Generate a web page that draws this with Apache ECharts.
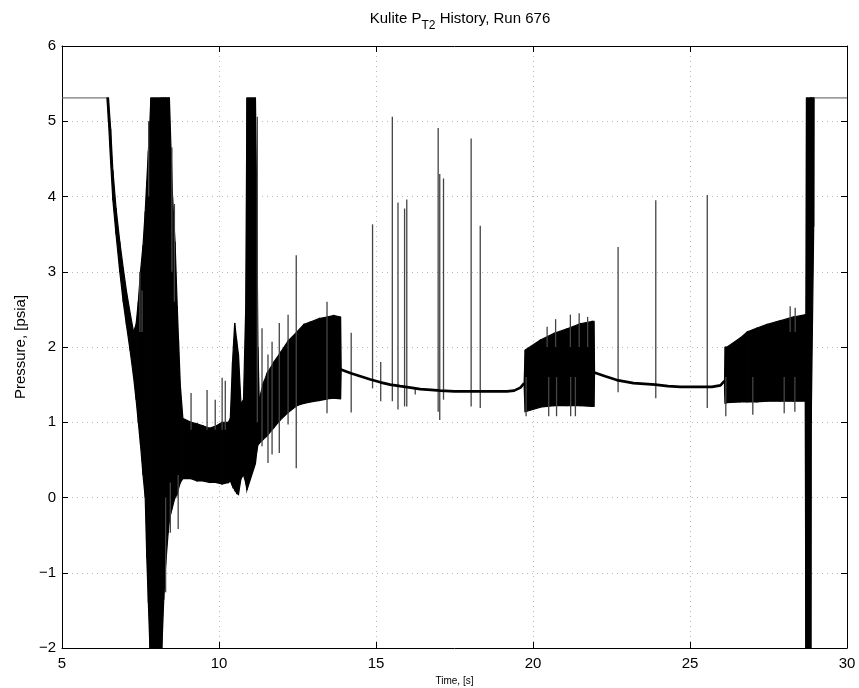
<!DOCTYPE html>
<html>
<head>
<meta charset="utf-8">
<script src="https://cdn.jsdelivr.net/npm/echarts@6/dist/echarts.min.js"></script>
<style>html,body{margin:0;padding:0;background:#fff}#c{width:859px;height:688px}</style>
</head>
<body>
<div id="c"></div>
<script>
// ---- axis ticks ----
const xTicks = [5, 10, 15, 20, 25, 30];
const yTicks = [-2, -1, 0, 1, 2, 3, 4, 5, 6];

// ---- saturated flat segments (psia) ----
const flatStartT = [5, 6.43];
const flatStartV = [5.31, 5.31];
const flatEndT = [28.94, 30];
const flatEndV = [5.31, 5.31];

// ---- smooth (quiet) trace segments ----
const curve1T = [13.88, 14.2, 14.5, 14.8, 15.14, 15.45, 15.77, 16.1, 16.41, 16.75, 17.05, 17.5, 18.11, 18.6, 19.17, 19.4, 19.6, 19.72];
const curve1V = [1.70, 1.65, 1.61, 1.57, 1.53, 1.50, 1.48, 1.46, 1.44, 1.43, 1.42, 1.41, 1.41, 1.41, 1.41, 1.42, 1.46, 1.52];
const curve2T = [21.95, 22.3, 22.67, 23.2, 23.89, 24.3, 24.69, 25.33, 25.7, 25.97, 26.1];
const curve2V = [1.66, 1.61, 1.56, 1.52, 1.50, 1.48, 1.47, 1.47, 1.47, 1.49, 1.55];

// ---- oscillating regions: envelope (time, low, high) ----
const blobT  = [6.43, 6.48, 6.55, 6.62, 6.72, 6.84, 6.95, 7.05, 7.17, 7.28, 7.36, 7.43, 7.5, 7.58, 7.65, 7.7, 7.75, 7.8, 7.83, 8.18, 8.24, 8.3, 8.38, 8.42, 8.47, 8.52, 8.6, 8.67, 8.71, 8.77, 8.85, 9.1, 9.3, 9.5, 9.7, 9.9, 10.1, 10.3, 10.36, 10.43, 10.5, 10.56, 10.62, 10.7, 10.78, 10.85, 10.89, 11.16, 11.2, 11.24, 11.28, 11.4, 11.53, 11.75, 11.95, 12.2, 12.48, 12.7, 12.9, 13.2, 13.45, 13.65, 13.87, 13.89];
const blobLo = [5.31, 5.0, 4.45, 3.95, 3.5, 3.0, 2.6, 2.3, 1.95, 1.6, 1.3, 1.0, 0.7, 0.3, 0.0, -0.8, -1.4, -2, -2, -2, -1.36, -0.9, -0.47, -0.3, -0.2, -0.12, 0.0, 0.05, 0.12, 0.2, 0.25, 0.25, 0.22, 0.22, 0.2, 0.2, 0.18, 0.2, 0.22, 0.15, 0.1, 0.06, 0.04, 0.25, 0.3, 0.2, 0.1, 0.45, 0.6, 0.7, 0.72, 0.77, 0.82, 0.93, 1.03, 1.13, 1.22, 1.25, 1.27, 1.29, 1.31, 1.32, 1.31, 1.68];
const blobHi = [5.31, 5.31, 4.9, 4.35, 3.85, 3.4, 3.05, 2.75, 2.45, 2.2, 2.3, 2.6, 3.0, 3.35, 3.8, 4.2, 4.6, 5.0, 5.31, 5.31, 5.31, 5.31, 5.31, 5.31, 4.65, 4.0, 3.4, 2.54, 2.1, 1.48, 1.05, 1.0, 0.98, 0.95, 0.92, 0.95, 1.0, 1.0, 1.05, 1.8, 2.32, 2.1, 1.9, 1.25, 1.3, 2.5, 5.31, 5.31, 4.0, 2.0, 1.3, 1.5, 1.65, 1.8, 1.92, 2.08, 2.2, 2.3, 2.33, 2.38, 2.4, 2.42, 2.4, 1.72];

const band2T  = [19.72, 19.75, 20.23, 20.66, 21.08, 21.51, 21.88, 21.94, 21.96];
const band2Lo = [1.45, 1.14, 1.2, 1.22, 1.22, 1.22, 1.21, 1.21, 1.64];
const band2Hi = [1.55, 1.96, 2.09, 2.18, 2.24, 2.31, 2.34, 2.34, 1.68];

const band3T  = [26.1, 26.12, 26.18, 26.6, 26.82, 27.13, 27.45, 27.88, 28.3, 28.67, 28.69, 28.71, 28.85, 28.86, 28.94, 28.95];
const band3Lo = [1.45, 1.25, 1.26, 1.27, 1.27, 1.27, 1.28, 1.28, 1.28, 1.28, -2, -2, -2, 1.0, 3.6, 5.31];
const band3Hi = [1.55, 2.0, 2.0, 2.12, 2.2, 2.25, 2.3, 2.35, 2.4, 2.43, 2.43, 5.31, 5.31, 5.31, 5.31, 5.31];

// ---- isolated spikes: time, low, high ----
const spikeT  = [7.48, 7.55, 7.76, 8.3, 8.45, 8.7, 8.5, 8.58, 9.11, 9.62, 9.88, 10.1, 10.2, 11.22, 11.37, 11.56, 11.69, 11.92, 12.2, 12.46, 13.44, 14.21, 14.89, 15.15, 15.52, 15.7, 15.91, 15.98, 16.25, 16.98, 17.03, 17.15, 18.03, 18.32, 19.78, 20.45, 20.5, 20.72, 20.75, 21.19, 21.2, 21.35, 21.47, 21.74, 22.71, 23.91, 25.55, 26.14, 27.0, 28.0, 28.19, 28.34, 28.35];
const spikeLo = [2.2, 2.2, 4.0, -1.26, -0.47, -0.42, 3.0, 2.6, 0.9, 0.9, 0.9, 0.9, 0.9, 1.0, 0.68, 0.46, 0.57, 0.59, 0.97, 0.39, 1.12, 1.13, 1.45, 1.28, 1.28, 1.17, 1.21, 1.21, 1.37, 1.14, 1.03, 1.3, 1.21, 1.19, 1.08, 2.0, 1.08, 2.0, 1.08, 2.0, 1.08, 1.08, 2.0, 2.0, 1.40, 1.32, 1.19, 1.08, 1.1, 1.12, 2.2, 1.14, 2.2];
const spikeHi = [3.0, 2.75, 5.0, 0.0, 0.2, 0.3, 4.65, 3.9, 1.39, 1.43, 1.3, 1.59, 1.55, 5.06, 2.25, 1.9, 2.07, 2.32, 2.43, 3.22, 2.6, 2.19, 3.63, 1.8, 5.06, 3.92, 3.84, 3.96, 1.47, 4.91, 4.3, 4.24, 4.77, 3.61, 1.6, 2.27, 1.6, 2.37, 1.6, 2.43, 1.6, 1.6, 2.45, 2.4, 3.33, 3.95, 4.02, 1.6, 1.6, 1.6, 2.54, 1.6, 2.52];

// ---- build library data ----
function pairs(t, v) { return t.map((x, i) => [x, v[i]]); }
function quads(t, lo, hi) {
  const out = [];
  for (let i = 0; i < t.length - 1; i++) out.push([t[i], lo[i], hi[i], t[i + 1], lo[i + 1], hi[i + 1]]);
  return out;
}
const bandData = [].concat(quads(blobT, blobLo, blobHi), quads(band2T, band2Lo, band2Hi), quads(band3T, band3Lo, band3Hi));
const spikeData = spikeT.map((t, i) => [t, spikeLo[i], spikeHi[i]]);

const FONT = '"Liberation Sans", Arial, Helvetica, sans-serif';
const chart = echarts.init(document.getElementById('c'), null, { renderer: 'canvas' });

const baseAxis = {
  axisLine: { show: true, onZero: false, lineStyle: { color: '#000', width: 1 } },
  axisTick: { show: true, inside: true, length: 6, lineStyle: { color: '#000' } }
};

chart.setOption({
  animation: false,
  backgroundColor: '#fff',
  title: {
    text: '{a|Kulite P}{s|T2}{a| History, Run 676}',
    left: 455, top: 6, textAlign: 'center',
    textStyle: {
      fontWeight: 'normal',
      rich: {
        a: { fontFamily: FONT, fontSize: 15, fontWeight: 'normal', color: '#000', lineHeight: 20, verticalAlign: 'top' },
        s: { fontFamily: FONT, fontSize: 12, fontWeight: 'normal', color: '#000', lineHeight: 20, verticalAlign: 'top', padding: [9, 0, 0, 0] }
      }
    }
  },
  grid: { left: 62, right: 12, top: 46, bottom: 40, containLabel: false, outerBoundsMode: 'none' },
  xAxis: [
    Object.assign({}, baseAxis, {
      type: 'value', min: 5, max: 30, interval: 5, position: 'bottom',
      axisLabel: { fontFamily: FONT, fontSize: 15, color: '#000', margin: 8 },
      splitLine: { show: true, lineStyle: { color: '#b8b8b8', type: [1, 4], width: 1 } },
      name: 'Time, [s]', nameLocation: 'middle', nameGap: 28,
      nameTextStyle: { fontFamily: FONT, fontSize: 10, color: '#000' }
    }),
    Object.assign({}, baseAxis, {
      type: 'value', min: 5, max: 30, interval: 5, position: 'top',
      axisLabel: { show: false }, splitLine: { show: false }
    })
  ],
  yAxis: [
    Object.assign({}, baseAxis, {
      type: 'value', min: -2, max: 6, interval: 1, position: 'left',
      axisLabel: { fontFamily: FONT, fontSize: 15, color: '#000', margin: 6,
        formatter: v => String(v).replace('-', '\u2212') },
      splitLine: { show: true, lineStyle: { color: '#b8b8b8', type: [1, 4], width: 1 } },
      name: 'Pressure, [psia]', nameLocation: 'middle', nameGap: 34,
      nameTextStyle: { fontFamily: FONT, fontSize: 15, color: '#000' }
    }),
    Object.assign({}, baseAxis, {
      type: 'value', min: -2, max: 6, interval: 1, position: 'right',
      axisLabel: { show: false }, splitLine: { show: false }
    })
  ],
  series: [
    {
      type: 'custom', name: 'envelope', clip: true,
      encode: { x: [0, 3], y: [1, 2, 4, 5] },
      data: bandData,
      renderItem: function (params, api) {
        const a = api.coord([api.value(0), api.value(1)]);
        const b = api.coord([api.value(0), api.value(2)]);
        const c = api.coord([api.value(3), api.value(5)]);
        const d = api.coord([api.value(3), api.value(4)]);
        return { type: 'polygon', shape: { points: [a, b, c, d] },
          style: { fill: '#000', stroke: '#000', lineWidth: 1.2 } };
      }
    },
    {
      type: 'custom', name: 'spikes', clip: true,
      encode: { x: 0, y: [1, 2] },
      data: spikeData,
      renderItem: function (params, api) {
        const a = api.coord([api.value(0), api.value(1)]);
        const b = api.coord([api.value(0), api.value(2)]);
        return { type: 'line', shape: { x1: a[0], y1: a[1], x2: b[0], y2: b[1] },
          style: { stroke: '#444', lineWidth: 1.3 } };
      }
    },
    { type: 'line', data: pairs(curve1T, curve1V), showSymbol: false, lineStyle: { color: '#000', width: 2.6 } },
    { type: 'line', data: pairs(curve2T, curve2V), showSymbol: false, lineStyle: { color: '#000', width: 2.6 } },
    { type: 'line', data: pairs(flatStartT, flatStartV), showSymbol: false, lineStyle: { color: '#555', width: 1 } },
    { type: 'line', data: pairs(flatEndT, flatEndV), showSymbol: false, lineStyle: { color: '#555', width: 1 } }
  ]
});
</script>
</body>
</html>
